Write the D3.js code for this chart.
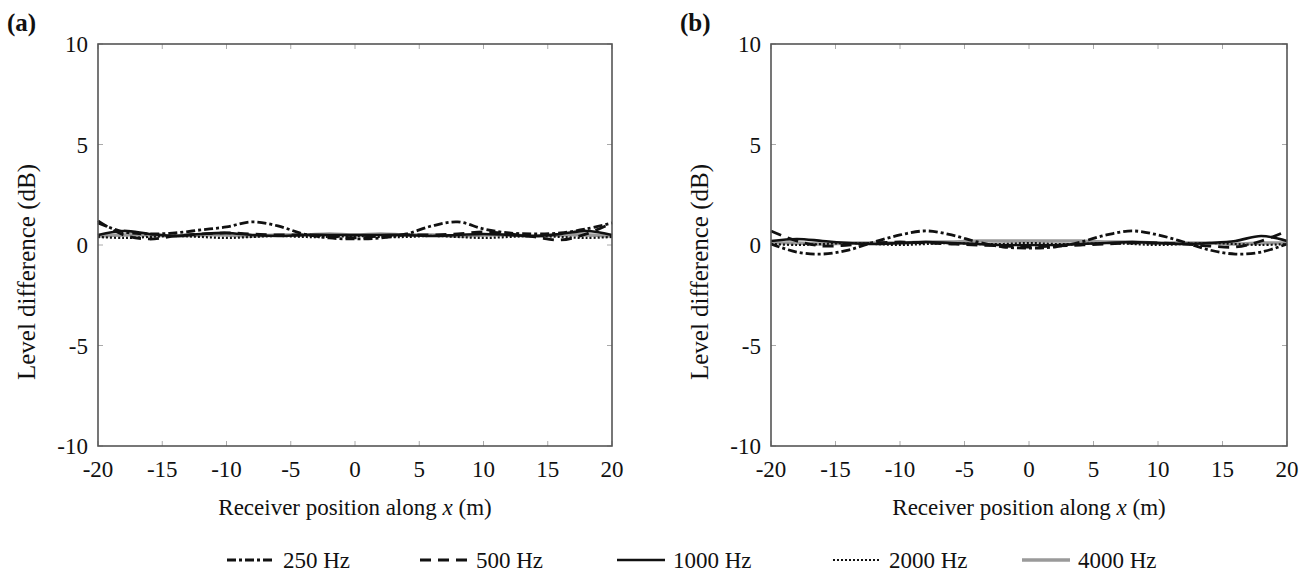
<!DOCTYPE html>
<html>
<head>
<meta charset="utf-8">
<script src="https://cdnjs.cloudflare.com/ajax/libs/d3/7.8.5/d3.min.js"></script>
<style>
  body { margin: 0; background: #fff; }
</style>
</head>
<body>
<div id="chart"></div>
<script>
// receiver positions (m)
var xPos = [-20, -18, -16, -14, -12, -10, -8, -6, -4, -2, 0, 2, 4, 6, 8, 10, 12, 14, 16, 18, 20];
var xTicks = [-20, -15, -10, -5, 0, 5, 10, 15, 20];
var yTicks = [-10, -5, 0, 5, 10];
var freqLabels = ["250 Hz", "500 Hz", "1000 Hz", "2000 Hz", "4000 Hz"];

// panel (a) level differences (dB)
var a250  = [1.1, 0.65, 0.55, 0.6, 0.75, 0.9, 1.15, 0.95, 0.55, 0.35, 0.3, 0.35, 0.55, 0.95, 1.15, 0.8, 0.6, 0.55, 0.6, 0.8, 1.1];
var a500  = [1.2, 0.5, 0.3, 0.45, 0.55, 0.6, 0.55, 0.5, 0.5, 0.45, 0.35, 0.45, 0.5, 0.5, 0.55, 0.65, 0.55, 0.4, 0.25, 0.55, 1.1];
var a1000 = [0.5, 0.7, 0.55, 0.45, 0.55, 0.6, 0.5, 0.45, 0.5, 0.5, 0.5, 0.5, 0.5, 0.45, 0.5, 0.55, 0.5, 0.45, 0.55, 0.7, 0.5];
var a2000 = [0.4, 0.35, 0.4, 0.45, 0.4, 0.35, 0.4, 0.45, 0.4, 0.4, 0.45, 0.4, 0.4, 0.45, 0.4, 0.35, 0.4, 0.45, 0.4, 0.35, 0.4];
var a4000 = [0.45, 0.5, 0.5, 0.45, 0.5, 0.5, 0.45, 0.5, 0.5, 0.55, 0.5, 0.55, 0.5, 0.5, 0.45, 0.5, 0.5, 0.45, 0.5, 0.5, 0.45];

// panel (b) level differences (dB)
var b250  = [0.05, -0.35, -0.45, -0.25, 0.15, 0.5, 0.7, 0.5, 0.15, -0.1, -0.15, -0.1, 0.15, 0.5, 0.7, 0.5, 0.15, -0.25, -0.45, -0.35, 0.05];
var b500  = [0.7, 0.2, -0.05, 0.0, 0.1, 0.15, 0.1, 0.05, 0.0, -0.05, -0.1, -0.05, 0.0, 0.05, 0.1, 0.1, 0.05, -0.05, -0.1, 0.2, 0.7];
var b1000 = [0.2, 0.3, 0.2, 0.1, 0.05, 0.1, 0.15, 0.1, 0.05, 0.0, 0.0, 0.0, 0.05, 0.1, 0.15, 0.1, 0.05, 0.1, 0.2, 0.45, 0.2];
var b2000 = [0.05, 0.0, 0.05, 0.1, 0.05, 0.0, 0.05, 0.1, 0.05, 0.05, 0.1, 0.05, 0.05, 0.1, 0.05, 0.0, 0.05, 0.1, 0.05, 0.0, 0.05];
var b4000 = [0.1, 0.1, 0.05, 0.1, 0.1, 0.1, 0.15, 0.15, 0.2, 0.2, 0.2, 0.2, 0.2, 0.15, 0.15, 0.1, 0.1, 0.1, 0.05, 0.1, 0.1];

var W = 1309, H = 573;
var FONT = "'Liberation Serif', 'Times New Roman', Times, serif";

var svg = d3.select("#chart").append("svg")
  .attr("width", W)
  .attr("height", H)
  .attr("font-family", FONT)
  .style("font-family", FONT);

// line styles per frequency
var styles = [
  {color: "#111", width: 2.8, dash: "9,3,3,3"},
  {color: "#111", width: 2.8, dash: "11,7"},
  {color: "#111", width: 2.6, dash: null},
  {color: "#111", width: 2.2, dash: "2,2"},
  {color: "#9a9a9a", width: 3.4, dash: null}
];

function drawPanel(left, right, label, series) {
  var top = 44, bottom = 446;
  var x = d3.scaleLinear().domain([-20, 20]).range([left, right]);
  var y = d3.scaleLinear().domain([-10, 10]).range([bottom, top]);

  var g = svg.append("g");

  // inward tick marks on all sides
  var tg = g.append("g").attr("stroke", "#aaa").attr("stroke-width", 1);
  xTicks.forEach(function(t) {
    tg.append("line").attr("x1", x(t)).attr("x2", x(t)).attr("y1", bottom).attr("y2", bottom - 5);
    tg.append("line").attr("x1", x(t)).attr("x2", x(t)).attr("y1", top).attr("y2", top + 5);
  });
  yTicks.forEach(function(t) {
    tg.append("line").attr("x1", left).attr("x2", left + 5).attr("y1", y(t)).attr("y2", y(t));
    tg.append("line").attr("x1", right).attr("x2", right - 5).attr("y1", y(t)).attr("y2", y(t));
  });

  // curves
  var line = d3.line()
    .x(function(d, i) { return x(xPos[i]); })
    .y(function(d) { return y(d); })
    .curve(d3.curveCatmullRom);

  // grey 4000 first, then the black ones on top
  [4, 3, 2, 1, 0].forEach(function(k) {
    var s = styles[k];
    g.append("path")
      .attr("d", line(series[k]))
      .attr("fill", "none")
      .attr("stroke", s.color)
      .attr("stroke-width", s.width)
      .attr("stroke-dasharray", s.dash);
  });

  // frame
  g.append("rect")
    .attr("x", left).attr("y", top)
    .attr("width", right - left).attr("height", bottom - top)
    .attr("fill", "none")
    .attr("stroke", "#555")
    .attr("stroke-width", 1.6);

  // tick labels
  g.selectAll(".xt").data(xTicks).enter().append("text")
    .attr("x", function(d) { return x(d); })
    .attr("y", 477)
    .attr("text-anchor", "middle")
    .attr("fill", "#111")
    .style("font-size", "23px")
    .text(function(d) { return d; });

  g.selectAll(".yt").data(yTicks).enter().append("text")
    .attr("x", left - 10)
    .attr("y", function(d) { return y(d) + 8; })
    .attr("text-anchor", "end")
    .attr("fill", "#111")
    .style("font-size", "23px")
    .text(function(d) { return d; });

  // axis titles
  var xl = g.append("text")
    .attr("x", (left + right) / 2)
    .attr("y", 515)
    .attr("text-anchor", "middle")
    .attr("fill", "#111")
    .style("font-size", "23px");
  xl.append("tspan").text("Receiver position along ");
  xl.append("tspan").style("font-style", "italic").text("x");
  xl.append("tspan").text(" (m)");

  g.append("text")
    .attr("transform", "translate(" + (left - 63) + "," + 272 + ") rotate(-90)")
    .attr("text-anchor", "middle")
    .attr("fill", "#111")
    .style("font-size", "25px")
    .text("Level difference (dB)");

  // panel label
  g.append("text")
    .attr("x", left - 91)
    .attr("y", 31)
    .attr("fill", "#111")
    .style("font-size", "25px")
    .style("font-weight", "bold")
    .text(label);
}

drawPanel(98, 612, "(a)", [a250, a500, a1000, a2000, a4000]);
drawPanel(771, 1287, "(b)", [b250, b500, b1000, b2000, b4000]);

// legend
var legX = [227, 420, 617, 833, 1022];
var leg = svg.selectAll(".leg").data(freqLabels).enter().append("g")
  .attr("transform", function(d, i) { return "translate(" + legX[i] + ",560)"; });

leg.append("line")
  .attr("x1", 0).attr("x2", 48)
  .attr("y1", 0).attr("y2", 0)
  .attr("stroke", function(d, i) { return styles[i].color; })
  .attr("stroke-width", function(d, i) { return styles[i].width; })
  .attr("stroke-dasharray", function(d, i) { return styles[i].dash; });

leg.append("text")
  .attr("x", 56)
  .attr("y", 8)
  .attr("fill", "#111")
  .style("font-size", "23px")
  .text(function(d) { return d; });
</script>
</body>
</html>
